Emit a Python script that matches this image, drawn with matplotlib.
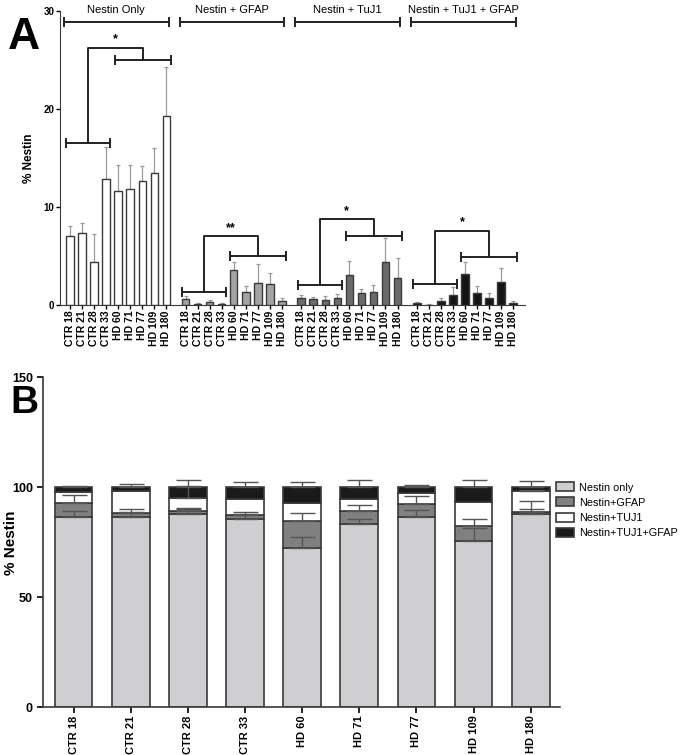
import matplotlib.pyplot as plt
import numpy as np

plt.rcParams["font.family"] = ["Liberation Sans", "DejaVu Sans"]

samples = ["CTR 18", "CTR 21", "CTR 28", "CTR 33", "HD 60", "HD 71", "HD 77", "HD 109", "HD 180"]

# Panel A: % Nestin per marker combination (mean and upper error)
group_names = ["Nestin Only", "Nestin + GFAP", "Nestin + TuJ1", "Nestin + TuJ1 + GFAP"]
nestin_only = [7.0, 7.4, 4.4, 12.9, 11.6, 11.8, 12.7, 13.5, 19.3]
nestin_only_err = [1.1, 1.0, 2.9, 3.2, 2.7, 2.5, 1.5, 2.5, 5.0]
nestin_gfap = [0.58, 0.12, 0.27, 0.12, 3.57, 1.36, 2.2, 2.1, 0.4]
nestin_gfap_err = [0.32, 0.08, 0.23, 0.06, 0.78, 0.58, 2.0, 1.2, 0.35]
nestin_tuj1 = [0.68, 0.65, 0.5, 0.75, 3.05, 1.26, 1.36, 4.4, 2.8]
nestin_tuj1_err = [0.32, 0.15, 0.4, 0.35, 1.45, 0.4, 0.68, 2.4, 2.0]
nestin_tuj1_gfap = [0.24, 0.05, 0.4, 1.0, 3.16, 1.19, 0.68, 2.38, 0.24]
nestin_tuj1_gfap_err = [0.1, 0.03, 0.28, 0.8, 1.19, 0.75, 0.57, 1.36, 0.13]
group_colors = ["white", "#a3a3a3", "#6b6b6b", "#151515"]

# significance brackets: CTR bracket y, HD bracket y, connector top y, label
ctr_bracket_y = [16.6, 1.36, 2.04, 2.14]
hd_bracket_y = [25.0, 5.0, 7.1, 4.9]
link_top_y = [26.3, 7.05, 8.8, 7.6]
sig_labels = ["*", "**", "*", "*"]

# Panel B: stacked composition per sample
stack_names = ["Nestin only", "Nestin+GFAP", "Nestin+TUJ1", "Nestin+TUJ1+GFAP"]
only_b = [86.4, 86.6, 87.7, 85.7, 72.5, 83.2, 86.4, 75.7, 87.7]
gfap_b = [6.3, 1.9, 1.5, 1.7, 12.2, 6.2, 6.0, 6.7, 1.2]
tuj1_b = [5.0, 10.0, 6.1, 7.3, 8.0, 5.3, 5.1, 11.1, 9.4]
tuj1_gfap_b = [2.3, 1.5, 4.7, 5.3, 7.3, 5.3, 2.5, 6.5, 1.7]
only_b_err = [3.0, 3.5, 3.0, 3.2, 4.8, 2.4, 3.2, 5.9, 2.3]
gfap_b_err = [3.8, 0.4, 1.0, 0.6, 3.8, 2.4, 3.8, 3.0, 5.0]
tuj1_b_err = [0.0, 0.0, 5.3, 0.0, 0.0, 0.0, 0.0, 0.0, 0.7]
tuj1_gfap_b_err = [0.6, 1.5, 3.3, 2.4, 2.4, 3.3, 1.0, 3.3, 3.0]
stack_colors = ["#cfcfd1", "#808080", "white", "#1a1a1a"]

edge = "#3a3a3a"

fig = plt.figure(figsize=(6.86, 7.55), dpi=100)

# ---------------- Panel A ----------------
axA = fig.add_axes([0.0875, 0.596, 0.678, 0.389])
group_data = [nestin_only, nestin_gfap, nestin_tuj1, nestin_tuj1_gfap]
group_err = [nestin_only_err, nestin_gfap_err, nestin_tuj1_err, nestin_tuj1_gfap_err]
offset = 9.6
idx = np.arange(len(samples))
all_pos = []
for g in range(4):
    pos = idx + g * offset
    all_pos.extend(pos)
    axA.bar(pos, group_data[g], width=0.62, color=group_colors[g], edgecolor=edge, linewidth=1.0, zorder=2)
    axA.errorbar(pos, group_data[g], yerr=[np.zeros(len(idx)), group_err[g]], fmt="none",
                 ecolor="#9a9a9a", elinewidth=0.9, capsize=1.5, capthick=0.9, zorder=1)

    # significance brackets
    c0, c1 = pos[0] - 0.3, pos[3] + 0.35
    h0, h1 = pos[4] - 0.3, pos[8] + 0.35
    yc, yh, yt = ctr_bracket_y[g], hd_bracket_y[g], link_top_y[g]
    for x0, x1, y in [(c0, c1, yc), (h0, h1, yh)]:
        axA.plot([x0, x1], [y, y], color="#222222", lw=1.4, zorder=3)
        axA.plot([x0, x1], [y, y], ls="none", marker="|", ms=7, mew=1.4, color="#222222", zorder=3)
    cm, hm = (c0 + c1) / 2, (h0 + h1) / 2
    axA.plot([cm, cm, hm, hm], [yc, yt, yt, yh], color="#222222", lw=1.4, zorder=3)
    axA.text((cm + hm) / 2, yt + 0.2, sig_labels[g], ha="center", va="bottom", fontsize=9, fontweight="bold")

    # group header
    x0, x1 = pos[0] - 0.5, pos[8] + 0.2
    axA.plot([x0, x1], [28.9, 28.9], color="#222222", lw=1.4, clip_on=False)
    axA.plot([x0, x1], [28.9, 28.9], ls="none", marker="|", ms=7, mew=1.4, color="#222222", clip_on=False)
    axA.text((x0 + x1) / 2, 29.6, group_names[g], ha="center", va="bottom", fontsize=8, clip_on=False)

axA.set_xlim(-0.83, 37.8)
axA.set_ylim(0, 30)
axA.set_yticks([0, 10, 20, 30])
axA.set_xticks(all_pos)
axA.set_xticklabels(samples * 4, rotation=90, fontsize=7.5, fontweight="bold")
axA.tick_params(axis="y", labelsize=7, length=3, width=1, pad=1)
axA.tick_params(axis="x", length=3, width=1, pad=1)
for lab in axA.get_yticklabels():
    lab.set_fontweight("bold")
axA.spines["top"].set_visible(False)
axA.spines["right"].set_visible(False)
axA.spines["left"].set_color(edge)
axA.spines["bottom"].set_color(edge)
axA.set_ylabel("% Nestin", fontsize=8.5, fontweight="bold", labelpad=6)

# ---------------- Panel B ----------------
axB = fig.add_axes([0.0631, 0.0632, 0.753, 0.437])
xb = np.arange(len(samples))
stacks = [only_b, gfap_b, tuj1_b, tuj1_gfap_b]
stack_err = [only_b_err, gfap_b_err, tuj1_b_err, tuj1_gfap_b_err]
bottom = np.zeros(len(samples))
tops = []
for k in range(4):
    axB.bar(xb, stacks[k], bottom=bottom, width=0.66, color=stack_colors[k], edgecolor=edge,
            linewidth=1.2, label=stack_names[k], zorder=2)
    bottom = bottom + np.array(stacks[k])
    tops.append(bottom.copy())
for k in range(4):
    err = np.array(stack_err[k])
    keep = err > 0
    axB.errorbar(xb[keep], tops[k][keep], yerr=[np.zeros(keep.sum()), err[keep]], fmt="none",
                 ecolor="#555555", elinewidth=1.0, capsize=9, capthick=1.0, zorder=3)

axB.set_xlim(-0.53, 8.51)
axB.set_ylim(0, 150)
axB.set_yticks([0, 50, 100, 150])
axB.set_xticks(xb)
axB.set_xticklabels(samples, rotation=90, fontsize=8, fontweight="bold")
axB.tick_params(axis="y", labelsize=9, length=4, width=1.2)
axB.tick_params(axis="x", length=4, width=1.2, pad=2)
for lab in axB.get_yticklabels():
    lab.set_fontweight("bold")
axB.spines["top"].set_visible(False)
axB.spines["right"].set_visible(False)
axB.spines["left"].set_color(edge)
axB.spines["bottom"].set_color(edge)
axB.spines["left"].set_linewidth(1.2)
axB.spines["bottom"].set_linewidth(1.2)
axB.set_ylabel("% Nestin", fontsize=11, fontweight="bold")
axB.yaxis.set_label_coords(-0.048, 0.5)
axB.legend(loc="upper left", bbox_to_anchor=(0.985, 0.695), frameon=False, fontsize=7.8,
           handlelength=1.6, handleheight=0.9, labelspacing=0.45, borderaxespad=0, handletextpad=0.5)

fig.text(0.012, 0.978, "A", fontsize=32, fontweight="bold", va="top")
fig.text(0.015, 0.49, "B", fontsize=28, fontweight="bold", va="top")

fig.savefig("out.png", dpi=100)
